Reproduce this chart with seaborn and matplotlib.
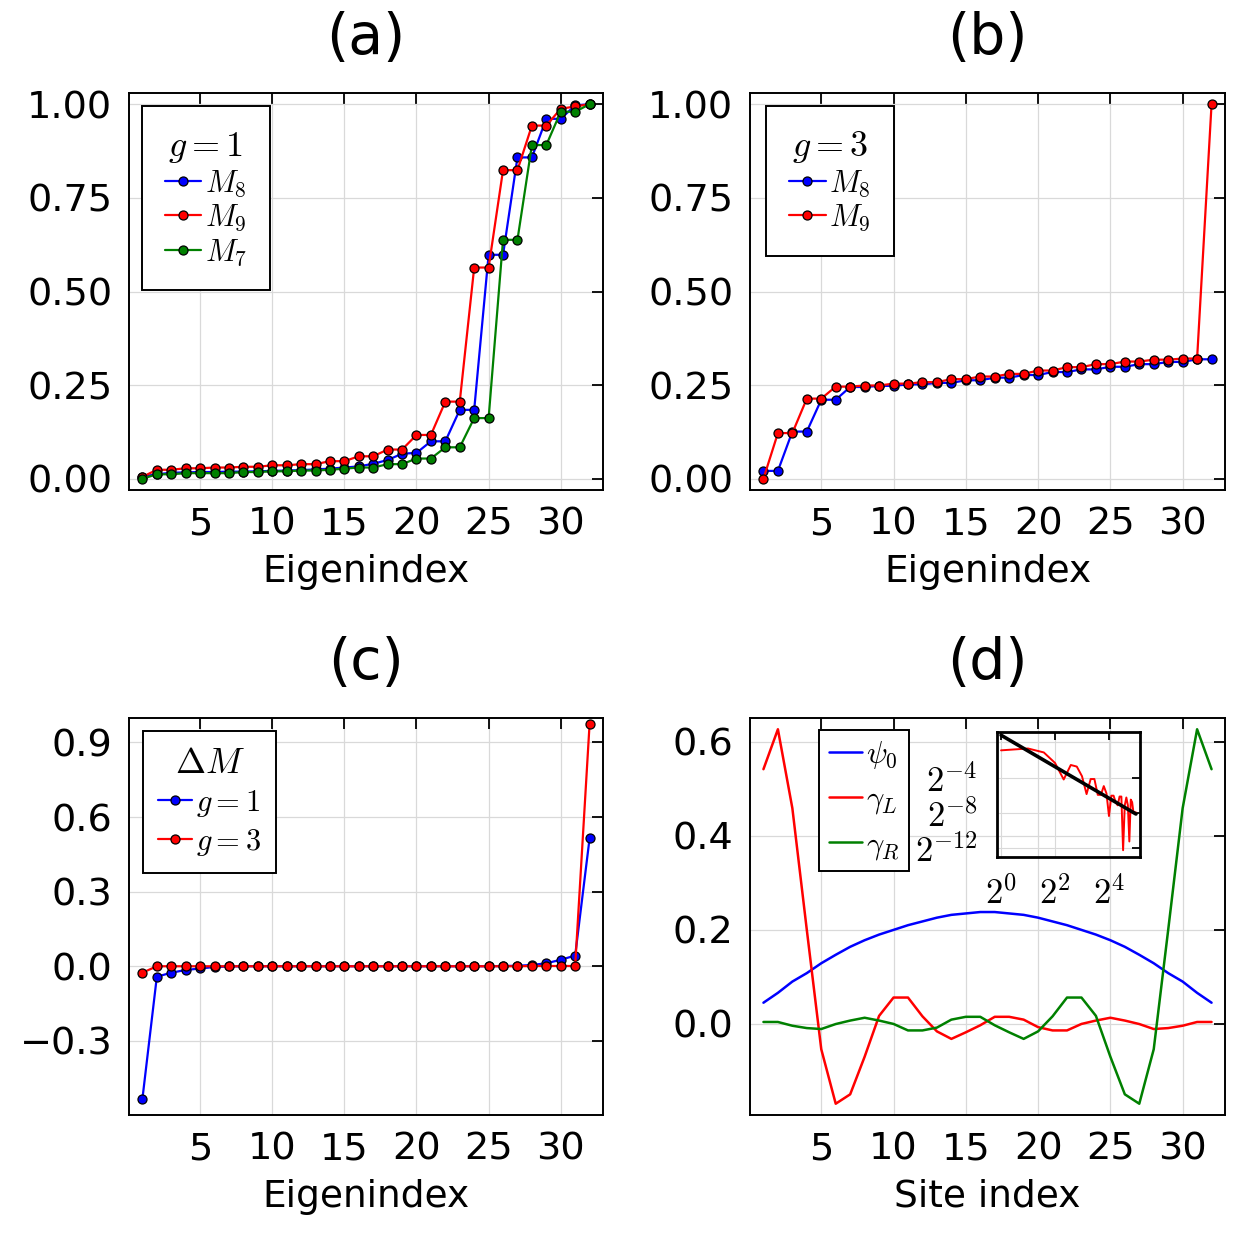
import numpy as np
import matplotlib
matplotlib.use("Agg")
import matplotlib.pyplot as plt
import seaborn as sns

# eigenindex / site index 1..32
idx = np.arange(1, 33)

# (a) g = 1
M8_g1 = [0.006, 0.012, 0.016, 0.017, 0.018, 0.018, 0.019, 0.019, 0.020, 0.021,
         0.022, 0.023, 0.025, 0.027, 0.030, 0.033, 0.040, 0.050, 0.067, 0.069,
         0.100, 0.100, 0.184, 0.184, 0.598, 0.598, 0.858, 0.858, 0.961, 0.961,
         0.997, 1.000]
M9_g1 = [0.005, 0.024, 0.024, 0.028, 0.028, 0.030, 0.030, 0.032, 0.032, 0.036,
         0.036, 0.039, 0.039, 0.047, 0.047, 0.060, 0.060, 0.078, 0.078, 0.117,
         0.117, 0.206, 0.206, 0.564, 0.564, 0.824, 0.824, 0.943, 0.943, 0.988,
         0.994, 1.000]
M7_g1 = [0.000, 0.012, 0.012, 0.015, 0.015, 0.015, 0.015, 0.018, 0.018, 0.020,
         0.020, 0.022, 0.022, 0.024, 0.027, 0.030, 0.030, 0.039, 0.039, 0.054,
         0.054, 0.084, 0.084, 0.162, 0.162, 0.638, 0.638, 0.891, 0.891, 0.980,
         0.980, 1.000]

# (b) g = 3
M8_g3 = [0.021, 0.021, 0.126, 0.126, 0.211, 0.211, 0.245, 0.245, 0.248, 0.248,
         0.252, 0.252, 0.256, 0.256, 0.263, 0.263, 0.270, 0.270, 0.277, 0.277,
         0.285, 0.285, 0.292, 0.292, 0.299, 0.299, 0.306, 0.306, 0.312, 0.312,
         0.319, 0.319]
M9_g3 = [0.000, 0.122, 0.122, 0.214, 0.214, 0.246, 0.246, 0.249, 0.249, 0.254,
         0.254, 0.258, 0.258, 0.266, 0.266, 0.273, 0.273, 0.280, 0.280, 0.289,
         0.289, 0.298, 0.298, 0.306, 0.306, 0.313, 0.313, 0.318, 0.318, 0.321,
         0.321, 1.000]

# (c) Delta M
dM_g1 = [-0.533, -0.042, -0.026, -0.015, -0.009, -0.003, -0.001, 0.000, 0.000, 0.000,
         0.000, 0.000, 0.000, 0.000, 0.000, 0.000, 0.000, 0.000, 0.000, 0.000,
         0.000, 0.000, 0.000, 0.000, 0.000, 0.001, 0.002, 0.005, 0.012, 0.026,
         0.043, 0.514]
dM_g3 = [-0.026, 0.000, 0.000, 0.000, 0.000, 0.000, 0.000, 0.000, 0.000, 0.000,
         0.000, 0.000, 0.000, 0.000, 0.000, 0.000, 0.000, 0.000, 0.000, 0.000,
         0.000, 0.000, 0.000, 0.000, 0.000, 0.000, 0.000, 0.001, 0.001, 0.001,
         0.001, 0.974]

# (d) site profiles
psi0 = [0.045, 0.066, 0.090, 0.108, 0.129, 0.147, 0.164, 0.178, 0.190, 0.200,
        0.210, 0.218, 0.226, 0.232, 0.235, 0.238, 0.238, 0.235, 0.232, 0.226,
        0.218, 0.210, 0.200, 0.190, 0.178, 0.164, 0.147, 0.129, 0.108, 0.090,
        0.066, 0.045]
gamma_L = [0.542, 0.627, 0.459, 0.200, -0.054, -0.170, -0.150, -0.070, 0.017, 0.056,
           0.056, 0.016, -0.016, -0.032, -0.018, -0.003, 0.015, 0.015, 0.009, -0.007,
           -0.014, -0.014, -0.0002, 0.007, 0.013, 0.007, -0.0004, -0.011, -0.009, -0.004,
           0.004, 0.004]
gamma_R = [0.004, 0.004, -0.004, -0.009, -0.011, -0.0004, 0.007, 0.013, 0.007, -0.0002,
           -0.014, -0.014, -0.008, 0.009, 0.015, 0.015, -0.003, -0.018, -0.032, -0.016,
           0.016, 0.056, 0.056, 0.017, -0.070, -0.150, -0.170, -0.054, 0.200, 0.459,
           0.627, 0.542]

# power-law fit shown in the inset
fit_amp = 1.8
fit_exp = -1.8

sns.set_theme(style="white")
plt.rcParams['font.family'] = ['DejaVu Sans']
plt.rcParams['mathtext.fontset'] = 'cm'
plt.rcParams['text.color'] = 'black'
plt.rcParams['axes.labelcolor'] = 'black'
plt.rcParams['xtick.color'] = 'black'
plt.rcParams['ytick.color'] = 'black'

fig = plt.figure(figsize=(12.5, 12.5), dpi=100)
W, H = 1250.0, 1250.0


def box(x0, y0, x1, y1):
    return [x0 / W, 1 - y1 / H, (x1 - x0) / W, (y1 - y0) / H]


ax_a = fig.add_axes(box(129, 93, 603, 490))
ax_b = fig.add_axes(box(750, 93, 1225, 490))
ax_c = fig.add_axes(box(129, 718, 603, 1115))
ax_d = fig.add_axes(box(750, 718, 1225, 1115))

mk = dict(marker='o', markersize=6.5, markeredgecolor='black', markeredgewidth=0.9,
          linewidth=1.6)


def style(ax, title, xlabel):
    ax.set_title(title, fontsize=41, pad=28, color='black')
    ax.set_xlim(0.07, 32.93)
    ax.set_xticks([5, 10, 15, 20, 25, 30])
    ax.tick_params(direction='in', top=True, right=True, length=8, width=1.3,
                   labelsize=27.5, pad=12, colors='black')
    ax.set_xlabel(xlabel, fontsize=27, labelpad=8)
    ax.grid(True, color='0.85', linewidth=0.9)
    for s in ax.spines.values():
        s.set_color('black')
        s.set_linewidth(1.4)
        s.set_visible(True)


def leg(ax, anchor, **kw):
    L = ax.legend(loc='upper left', bbox_to_anchor=anchor, borderaxespad=0,
                  fontsize=22, frameon=True, fancybox=False, edgecolor='black',
                  framealpha=1, handletextpad=0.12, **kw)
    L.get_frame().set_linewidth(1.4)
    return L


# (a)
sns.lineplot(x=idx, y=M8_g1, ax=ax_a, color='#0000ff', label=r'$M_8$', **mk)
sns.lineplot(x=idx, y=M9_g1, ax=ax_a, color='#ff0000', label=r'$M_9$', **mk)
sns.lineplot(x=idx, y=M7_g1, ax=ax_a, color='#008000', label=r'$M_7$', **mk)
style(ax_a, '(a)', 'Eigenindex')
ax_a.set_ylim(-0.03, 1.03)
ax_a.set_yticks([0, 0.25, 0.5, 0.75, 1.0])
ax_a.set_yticklabels(['0.00', '0.25', '0.50', '0.75', '1.00'])
leg(ax_a, (0.027, 0.967), title=r'$g = 1$', title_fontsize=26, handlelength=1.2,
    borderpad=0.75, labelspacing=0.12)

# (b)
sns.lineplot(x=idx, y=M8_g3, ax=ax_b, color='#0000ff', label=r'$M_8$', **mk)
sns.lineplot(x=idx, y=M9_g3, ax=ax_b, color='#ff0000', label=r'$M_9$', **mk)
style(ax_b, '(b)', 'Eigenindex')
ax_b.set_ylim(-0.03, 1.03)
ax_b.set_yticks([0, 0.25, 0.5, 0.75, 1.0])
ax_b.set_yticklabels(['0.00', '0.25', '0.50', '0.75', '1.00'])
leg(ax_b, (0.034, 0.967), title=r'$g = 3$', title_fontsize=26, handlelength=1.2,
    borderpad=0.75, labelspacing=0.12)

# (c)
sns.lineplot(x=idx, y=dM_g1, ax=ax_c, color='#0000ff', label=r'$g = 1$', **mk)
sns.lineplot(x=idx, y=dM_g3, ax=ax_c, color='#ff0000', label=r'$g = 3$', **mk)
style(ax_c, '(c)', 'Eigenindex')
ax_c.set_ylim(-0.598, 0.998)
ax_c.set_yticks([-0.3, 0.0, 0.3, 0.6, 0.9])
ax_c.set_yticklabels(['\u22120.3', '0.0', '0.3', '0.6', '0.9'])
leg(ax_c, (0.03, 0.967), title=r'$\Delta M$', title_fontsize=26, handlelength=1.1,
    borderpad=0.5, labelspacing=0.25)

# (d)
sns.lineplot(x=idx, y=psi0, ax=ax_d, color='#0000ff', linewidth=1.8, label=r'$\psi_0$')
sns.lineplot(x=idx, y=gamma_L, ax=ax_d, color='#ff0000', linewidth=1.8, label=r'$\gamma_L$')
sns.lineplot(x=idx, y=gamma_R, ax=ax_d, color='#008000', linewidth=1.8, label=r'$\gamma_R$')
style(ax_d, '(d)', 'Site index')
ax_d.set_ylim(-0.194, 0.651)
ax_d.set_yticks([0.0, 0.2, 0.4, 0.6])
ax_d.set_yticklabels(['0.0', '0.2', '0.4', '0.6'])
leg(ax_d, (0.146, 0.97), handlelength=1.1, borderpad=0.3, labelspacing=0.45)

# inset of (d): |gamma_L| on log-log axes with power-law fit
ax_in = fig.add_axes(box(997, 732, 1140, 857))
ax_in.set_facecolor('none')
sns.lineplot(x=idx, y=np.abs(gamma_L), ax=ax_in, color='#ff0000', linewidth=1.4)
fit_y = fit_amp * idx.astype(float) ** fit_exp
sns.lineplot(x=idx, y=fit_y, ax=ax_in, color='black', linewidth=2.6)
ax_in.set_xscale('log', base=2)
ax_in.set_yscale('log', base=2)
ax_in.set_xlim(2 ** -0.15, 2 ** 5.15)
ax_in.set_ylim(2 ** -13.06, 2 ** 1.21)
ax_in.set_xticks([1, 4, 16])
ax_in.set_xticklabels([r'$2^{0}$', r'$2^{2}$', r'$2^{4}$'])
ax_in.set_yticks([2 ** -4, 2 ** -8, 2 ** -12])
ax_in.set_yticklabels([r'$2^{-4}$', r'$2^{-8}$', r'$2^{-12}$'])
ax_in.minorticks_off()
ax_in.tick_params(direction='in', top=True, right=True, length=6, width=1.3,
                  labelsize=25, pad=14, colors='black')
ax_in.grid(True, color='0.85', linewidth=0.8)
for s in ax_in.spines.values():
    s.set_color('black')
    s.set_linewidth(2.0)
    s.set_visible(True)

fig.savefig('out.png', dpi=100)
